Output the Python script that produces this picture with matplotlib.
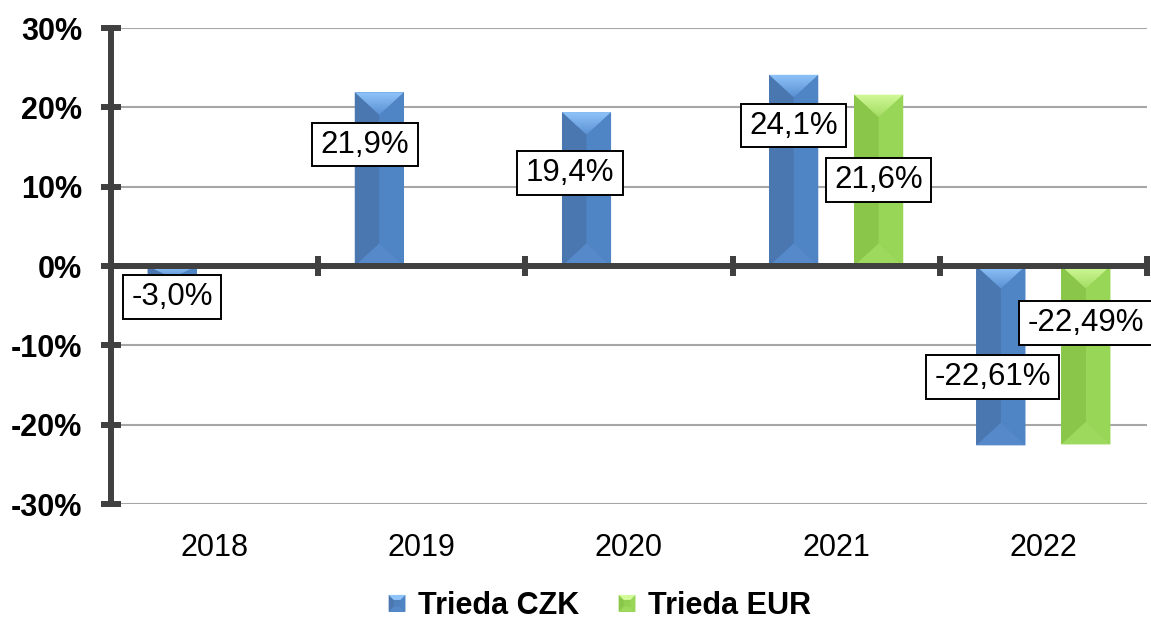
import numpy as np
import matplotlib
matplotlib.use('Agg')
import matplotlib.pyplot as plt
from matplotlib.patches import Polygon, Rectangle
from matplotlib.path import Path
from matplotlib.legend_handler import HandlerBase
from matplotlib.colors import to_rgb

# ---- data ----
years = ['2018', '2019', '2020', '2021', '2022']
czk = [-3.0, 21.9, 19.4, 24.1, -22.61]
eur = [np.nan, np.nan, np.nan, 21.6, -22.49]
czk_labels = ['-3,0%', '21,9%', '19,4%', '24,1%', '-22,61%']
eur_labels = ['', '', '', '21,6%', '-22,49%']
series_names = ['Trieda CZK', 'Trieda EUR']
yticks = [-30, -20, -10, 0, 10, 20, 30]

# ---- label placement (layout only) ----
czk_label_dx = [0.0, -0.07, -0.08, 0.0, -0.04]
czk_label_y = [-3.9, 15.3, 11.7, 17.7, -14.0]
eur_label_dx = [0.0, 0.0, 0.0, 0.0, 0.0]
eur_label_y = [np.nan, np.nan, np.nan, 10.8, -7.2]

# ---- styles ----
BLUE = dict(base='#4F81BD', top1='#8FC4FA', top2='#5A90D2', left='#4A77B0', right='#5085C5', bot='#5589C9')
GREEN = dict(base='#92D050', top1='#D2FA98', top2='#A2DC62', left='#89C649', right='#97D657', bot='#9DD95C')
AXC = '#404040'

plt.rcParams['font.family'] = ['Liberation Sans', 'DejaVu Sans']
fig = plt.figure(figsize=(11.51, 6.19), dpi=100)
ax = fig.add_axes([111 / 1151, 115 / 619, 1036 / 1151, 476 / 619])
ax.set_xlim(-0.5, 4.5)
ax.set_ylim(-30, 30)

x = np.arange(len(years))
bw = 0.237
off = 0.205
bars_czk = ax.bar(x - off, czk, width=bw, color=BLUE['base'], zorder=2)
bars_eur = ax.bar(x + off, eur, width=bw, color=GREEN['base'], zorder=2)


def bevel(patch, c):
    x0 = patch.get_x()
    w = patch.get_width()
    ya = patch.get_y()
    h = patch.get_height()
    if not np.isfinite(h) or h == 0:
        return
    ylo, yhi = min(ya, ya + h), max(ya, ya + h)
    p = ax.transData.transform([(x0, 0), (x0 + w, 0), (x0, 1)])
    half_px = (p[1, 0] - p[0, 0]) / 2
    ppu = p[2, 1] - p[0, 1]
    d = min(half_px * 0.92 / ppu, (yhi - ylo) / 2)
    xc = x0 + w / 2
    polys = [
        ([(x0, yhi), (xc, yhi - d), (xc, ylo + d), (x0, ylo)], c['left']),
        ([(x0 + w, yhi), (xc, yhi - d), (xc, ylo + d), (x0 + w, ylo)], c['right']),
        ([(x0, ylo), (x0 + w, ylo), (xc, ylo + d)], c['bot']),
    ]
    for pts, col in polys:
        ax.add_patch(Polygon(pts, closed=True, facecolor=col, edgecolor='none', zorder=3))
    tri = Polygon([(x0, yhi), (x0 + w, yhi), (xc, yhi - d)], closed=True,
                  facecolor='none', edgecolor='none', zorder=3)
    ax.add_patch(tri)
    c1 = np.array(to_rgb(c['top1']))
    c2 = np.array(to_rgb(c['top2']))
    t = np.linspace(0, 1, 64)[:, None]
    grad = (c1 * (1 - t) + c2 * t)[:, None, :]
    im = ax.imshow(grad, extent=[x0, x0 + w, yhi - d, yhi], aspect='auto',
                   origin='upper', zorder=3, interpolation='bilinear')
    im.set_clip_path(tri)


for b in bars_czk:
    bevel(b, BLUE)
for b in bars_eur:
    bevel(b, GREEN)
ax.set_xlim(-0.5, 4.5)
ax.set_ylim(-30, 30)

# grid and axes
ax.set_axisbelow(True)
ax.yaxis.grid(True, color='#A6A6A6', lw=1.5, zorder=0)
for s in ['top', 'right', 'bottom']:
    ax.spines[s].set_visible(False)
ax.spines['left'].set_color(AXC)
ax.spines['left'].set_linewidth(4.3)
ax.spines['left'].set_zorder(5)
ax.set_yticks(yticks)
ax.set_yticklabels([f'{v}%' for v in yticks], fontsize=22, fontweight='bold')
ax.tick_params(axis='y', direction='inout', length=13.7, width=4.3, color=AXC, pad=14)
ax.set_xticks(x)
ax.set_xticklabels(years, fontsize=22)
ax.tick_params(axis='x', length=0, pad=21)

ax.axhline(0, color=AXC, lw=4.3, zorder=4)
bounds = np.arange(0.5, len(years), 1.0)
ax.plot(bounds, np.zeros_like(bounds), ls='none', marker='|', ms=13.7, mew=4.3,
        color=AXC, clip_on=False, zorder=4)


def label_box(x0, y0, width, height, mutation_size):
    px = 0.27 * mutation_size
    py = 0.22 * mutation_size
    verts = [(x0 - px, y0 - py), (x0 + width + px, y0 - py),
             (x0 + width + px, y0 + height + py), (x0 - px, y0 + height + py),
             (x0 - px, y0 - py)]
    return Path(verts, closed=True)


# data labels
box = dict(boxstyle=label_box, fc='white', ec='black', lw=1.4)
for i in range(len(years)):
    if czk_labels[i]:
        ax.text(i - off + czk_label_dx[i], czk_label_y[i], czk_labels[i], ha='center', va='center',
                fontsize=22.5, bbox=box, zorder=6, clip_on=False)
    if eur_labels[i]:
        ax.text(i + off + eur_label_dx[i], eur_label_y[i], eur_labels[i], ha='center', va='center',
                fontsize=22.5, bbox=box, zorder=6, clip_on=False)


class BevelHandler(HandlerBase):
    def __init__(self, c):
        super().__init__()
        self.c = c

    def create_artists(self, legend, orig_handle, xdescent, ydescent, width, height, fontsize, trans):
        s = min(width, height)
        x0 = -xdescent + (width - s) / 2
        y0 = -ydescent + (height - s) / 2
        c = self.c
        d = s * 0.3
        arts = []
        polys = [
            ([(x0, y0), (x0 + s, y0), (x0 + s, y0 + s), (x0, y0 + s)], c['base']),
            ([(x0, y0 + s), (x0 + d, y0 + s - d), (x0 + d, y0 + d), (x0, y0)], c['left']),
            ([(x0 + s, y0 + s), (x0 + s - d, y0 + s - d), (x0 + s - d, y0 + d), (x0 + s, y0)], c['right']),
            ([(x0, y0 + s), (x0 + s, y0 + s), (x0 + s - d, y0 + s - d), (x0 + d, y0 + s - d)], c['top1']),
            ([(x0, y0), (x0 + s, y0), (x0 + s - d, y0 + d), (x0 + d, y0 + d)], c['bot']),
        ]
        for pts, col in polys:
            p = Polygon(pts, closed=True, facecolor=col, edgecolor='none', transform=trans)
            arts.append(p)
        return arts


h1 = Rectangle((0, 0), 1, 1, color=BLUE['base'])
h2 = Rectangle((0, 0), 1, 1, color=GREEN['base'])
fig.legend([h1, h2], series_names, loc='center', bbox_to_anchor=(0.521, 0.021), ncol=2,
           frameon=False, prop=dict(size=22, weight='bold'), handlelength=0.55,
           handletextpad=0.4, columnspacing=1.3,
           handler_map={h1: BevelHandler(BLUE), h2: BevelHandler(GREEN)})

fig.savefig('out.png', dpi=100)
